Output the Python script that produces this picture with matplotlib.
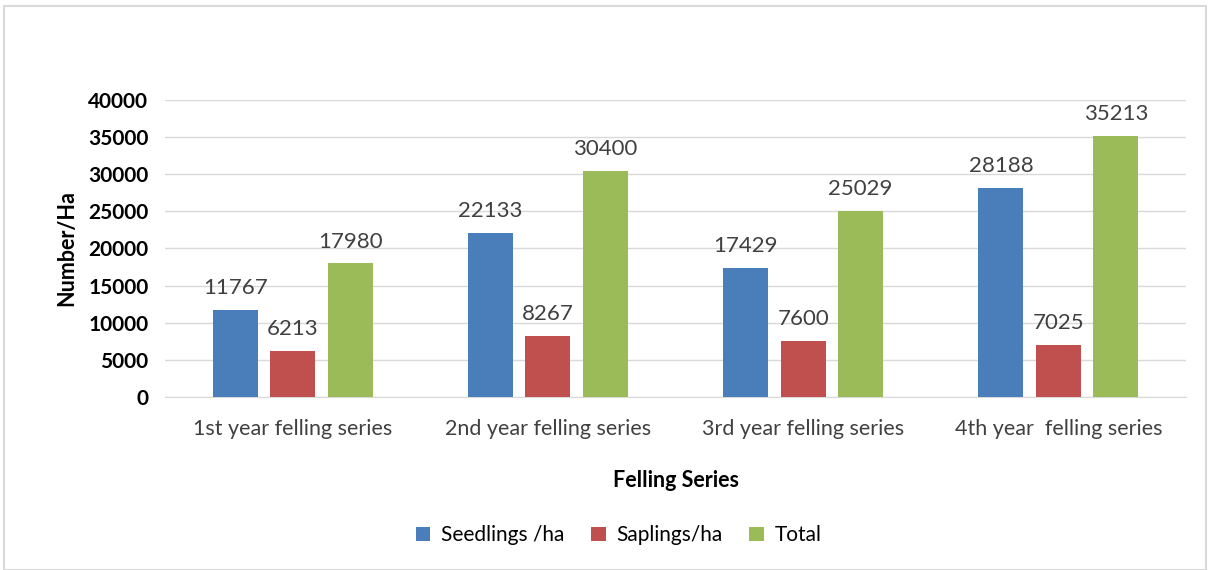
import numpy as np
import matplotlib
matplotlib.use('Agg')
import matplotlib.pyplot as plt
from matplotlib.patches import Rectangle

# Данные
categories = ['1st year felling series', '2nd year felling series',
              '3rd year felling series', '4th year  felling series']
seedlings = [11767, 22133, 17429, 28188]
saplings = [6213, 8267, 7600, 7025]
total = [17980, 30400, 25029, 35213]
series_names = ['Seedlings /ha', 'Saplings/ha', 'Total']
colors = ['#4a7ebb', '#c0504d', '#9bbb59']

plt.rcParams['font.family'] = ['Lato', 'DejaVu Sans']

fig = plt.figure(figsize=(12.08, 5.70), dpi=100)
fig.patches.append(Rectangle((0.003, 0.0), 0.995, 0.99, transform=fig.transFigure,
                             fill=False, edgecolor='#d9d9d9', linewidth=1.5))
ax = fig.add_axes([0.1366, 0.3035, 0.8452, 0.5211])

x = np.arange(len(categories))
w = 0.176
step = 0.225
for i, (vals, name) in enumerate(zip([seedlings, saplings, total], series_names)):
    pos = x + (i - 1) * step
    ax.bar(pos, vals, width=w, color=colors[i], label=name, zorder=3)
    for p, v in zip(pos, vals):
        ax.text(p, v + 1600, str(v), ha='center', va='bottom',
                fontsize=16, color='#404040', zorder=4)

ax.set_xlim(-0.5, 3.5)
ax.set_ylim(0, 40000)
ax.set_yticks(np.arange(0, 40001, 5000))
ax.grid(axis='y', color='#d9d9d9', linewidth=1, zorder=0)
for s in ['top', 'right', 'left']:
    ax.spines[s].set_visible(False)
ax.spines['bottom'].set_color('#d9d9d9')
ax.tick_params(axis='both', length=0)
ax.tick_params(axis='y', pad=12)
ax.tick_params(axis='x', pad=16)
ax.set_xticks(x)
ax.set_xticklabels(categories, fontsize=15.5, color='#404040')
for lbl in ax.get_yticklabels():
    lbl.set_fontweight('bold')
    lbl.set_fontsize(15)
    lbl.set_color('black')

ax.set_xlabel('Felling Series', fontsize=15.5, fontweight='bold', labelpad=22)
ax.set_ylabel('Number/Ha', fontsize=15.5, fontweight='bold', labelpad=8)

fig.legend(*ax.get_legend_handles_labels(), loc='center', bbox_to_anchor=(0.512, 0.061),
           ncol=3, frameon=False, fontsize=15, handlelength=0.7, handleheight=0.7,
           columnspacing=1.3, handletextpad=0.5)

fig.savefig('out.png', dpi=100)
